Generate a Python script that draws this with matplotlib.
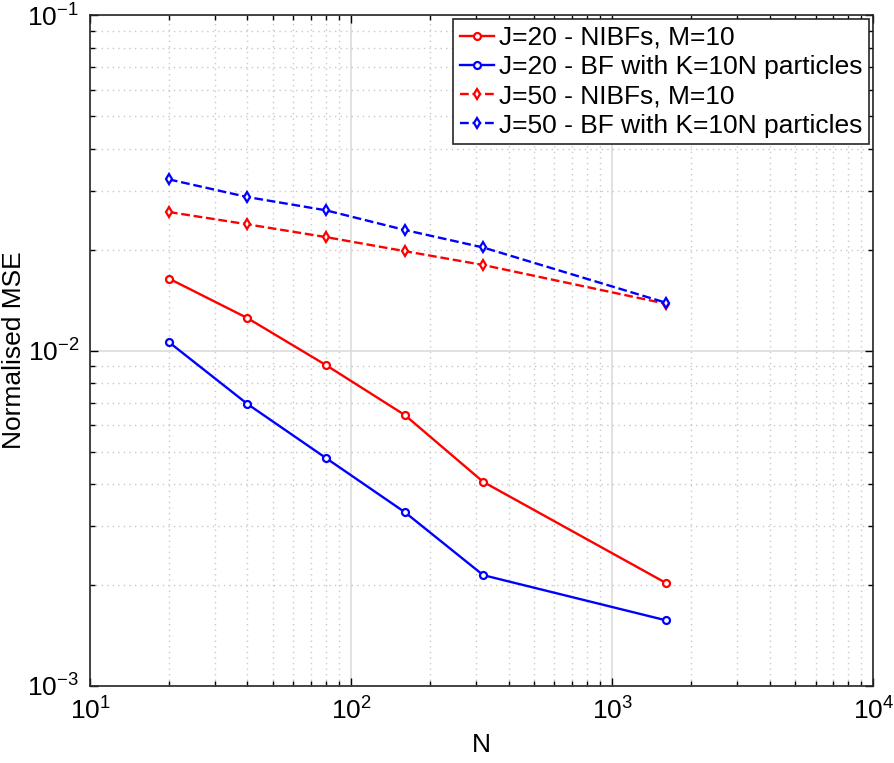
import numpy as np
import matplotlib
matplotlib.use("Agg")
from matplotlib import pyplot as plt
from matplotlib.ticker import LogLocator, NullFormatter

plt.rcParams['font.family'] = ['Liberation Sans', 'DejaVu Sans']
plt.rcParams['mathtext.fontset'] = 'custom'
plt.rcParams['mathtext.rm'] = 'Liberation Sans'

N = [20, 40, 80, 160, 320, 1600]
nibf_j20 = [0.0164, 0.0125, 0.00905, 0.00643, 0.00406, 0.00203]
bf_j20 = [0.0106, 0.00693, 0.00478, 0.0033, 0.00214, 0.00157]
nibf_j50 = [0.0259, 0.0238, 0.0218, 0.0198, 0.0180, 0.0138]
bf_j50 = [0.0324, 0.0287, 0.0262, 0.0229, 0.0203, 0.0139]
labels = ['J=20 - NIBFs, M=10', 'J=20 - BF with K=10N particles',
          'J=50 - NIBFs, M=10', 'J=50 - BF with K=10N particles']

fig = plt.figure(figsize=(8.94, 7.63), dpi=100)
ax = fig.add_axes([0.101, 0.101, 0.876, 0.879])

ax.plot(N, nibf_j20, '-o', color='red', lw=1.7, ms=5, mfc='white', mew=1.6, label=labels[0])
ax.plot(N, bf_j20, '-o', color='blue', lw=1.7, ms=5, mfc='white', mew=1.6, label=labels[1])
ax.plot(N, nibf_j50, '--d', color='red', lw=1.7, ms=5, mfc='white', mew=1.6, label=labels[2])
ax.plot(N, bf_j50, '--d', color='blue', lw=1.7, ms=5, mfc='white', mew=1.6, label=labels[3])

ax.set_xscale('log')
ax.set_yscale('log')
ax.set_xlim(10, 1e4)
ax.set_ylim(1e-3, 1e-1)
ax.xaxis.set_major_locator(LogLocator(base=10, numticks=10))
ax.yaxis.set_major_locator(LogLocator(base=10, numticks=10))
ax.xaxis.set_minor_locator(LogLocator(base=10, subs=np.arange(2, 10), numticks=20))
ax.yaxis.set_minor_locator(LogLocator(base=10, subs=np.arange(2, 10), numticks=20))
ax.xaxis.set_minor_formatter(NullFormatter())
ax.yaxis.set_minor_formatter(NullFormatter())

ax.grid(True, which='major', color='#dcdcdc', lw=1.2, ls='-')
ax.grid(True, which='minor', color='#c8c8c8', lw=1.0, ls=(0, (1, 3)))
ax.set_axisbelow(True)

ax.tick_params(which='both', direction='in', top=True, right=True, labelsize=19, pad=8)
ax.tick_params(which='major', length=6, width=1)
ax.tick_params(which='minor', length=3.5, width=1)
for s in ax.spines.values():
    s.set_linewidth(1.2)
    s.set_color('#262626')

ax.set_xlabel('N', fontsize=19, labelpad=6)
ax.set_ylabel('Normalised MSE', fontsize=19, labelpad=1)

leg = ax.legend(loc='upper right', fontsize=19, frameon=True, fancybox=False,
                edgecolor='#262626', framealpha=1, handlelength=1.3,
                handletextpad=0.2, borderpad=0.25, labelspacing=0.2,
                borderaxespad=0.15)
leg.get_frame().set_linewidth(1.2)

fig.savefig('out.png', dpi=100)
